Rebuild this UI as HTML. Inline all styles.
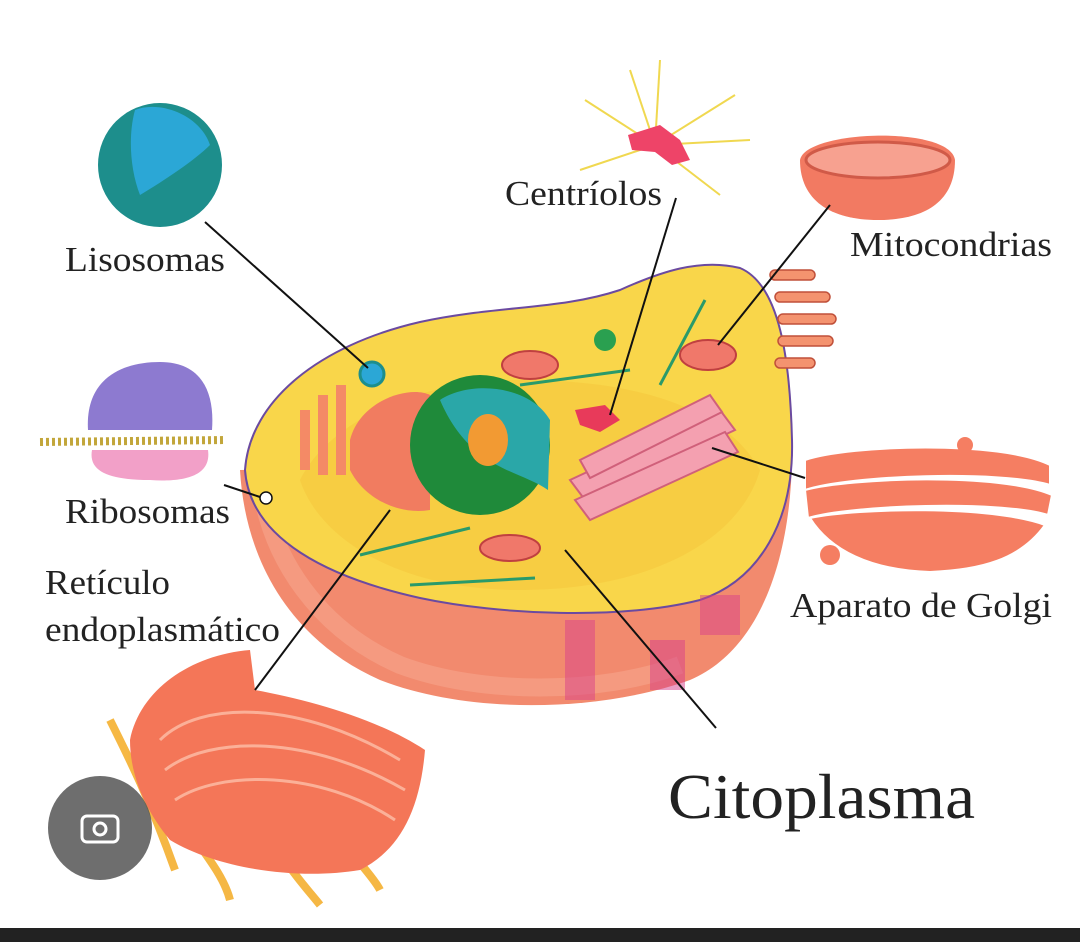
<!DOCTYPE html>
<html><head><meta charset="utf-8"><style>
html,body{margin:0;padding:0;background:#fff;}
svg{display:block}
text{font-family:"Liberation Serif",serif;fill:#222}
</style></head><body>
<svg width="1080" height="942" viewBox="0 0 1080 942" xmlns="http://www.w3.org/2000/svg">
<rect width="1080" height="942" fill="#fff"/>
<path d="M240,470 C245,560 290,640 380,680 C470,715 600,712 690,680 C760,650 790,560 792,460 Z" fill="#f28a6e"/>
<path d="M260,480 C270,560 320,630 400,665 C480,695 600,695 680,665" fill="none" stroke="#f6a58c" stroke-width="18" opacity="0.6"/>
<path d="M245,470 C250,400 320,345 420,322 C500,305 560,310 620,290 C660,272 700,258 740,268 C780,285 790,360 792,440 C794,520 760,580 700,600 C620,620 500,615 420,598 C330,578 250,540 245,470 Z" fill="#f9d64a" stroke="#6b4aa0" stroke-width="2"/>
<path d="M300,480 C330,420 420,380 520,380 C620,380 720,400 760,470 C740,540 650,590 520,590 C400,590 320,540 300,480 Z" fill="#f5c33a" opacity="0.5"/>
<g fill="#f4936f" stroke="#c0503a" stroke-width="1.5">
<rect x="770" y="270" width="45" height="10" rx="5"/><rect x="775" y="292" width="55" height="10" rx="5"/>
<rect x="778" y="314" width="58" height="10" rx="5"/><rect x="778" y="336" width="55" height="10" rx="5"/>
<rect x="775" y="358" width="40" height="10" rx="5"/></g>
<path d="M350,440 C360,400 410,385 430,395 L430,510 C400,515 365,500 350,470 Z" fill="#f17c60"/>
<g fill="#f48a66"><rect x="300" y="410" width="10" height="60"/><rect x="318" y="395" width="10" height="80"/><rect x="336" y="385" width="10" height="90"/></g>
<circle cx="480" cy="445" r="70" fill="#1f8a3a"/>
<path d="M440,400 C470,380 530,385 550,420 L548,490 C520,470 470,470 440,400Z" fill="#2aa7a8"/>
<ellipse cx="488" cy="440" rx="20" ry="26" fill="#f29a33"/>
<g fill="#f4a0b0" stroke="#d0607a" stroke-width="2">
<path d="M570,480 L720,410 L735,430 L585,500Z"/><path d="M575,500 L725,432 L738,452 L590,520Z"/><path d="M580,460 L710,395 L722,412 L590,478Z"/></g>
<g fill="#f0786a" stroke="#c04040" stroke-width="2">
<ellipse cx="530" cy="365" rx="28" ry="14"/><ellipse cx="708" cy="355" rx="28" ry="15"/><ellipse cx="510" cy="548" rx="30" ry="13"/></g>
<path d="M575,410 L605,405 L620,420 L600,432 L580,425Z" fill="#e83a5a"/>
<g stroke="#2a9a6a" stroke-width="3"><line x1="520" y1="385" x2="630" y2="370"/><line x1="360" y1="555" x2="470" y2="528"/><line x1="410" y1="585" x2="535" y2="578"/><line x1="660" y1="385" x2="705" y2="300"/></g>
<circle cx="605" cy="340" r="11" fill="#2aa050"/>
<g fill="#d7408a" opacity="0.5"><rect x="565" y="620" width="30" height="80"/><rect x="650" y="640" width="35" height="50"/><rect x="700" y="595" width="40" height="40"/></g>
<circle cx="160" cy="165" r="62" fill="#1d8e8c"/>
<path d="M135,110 C160,100 200,115 210,145 C195,160 165,180 140,195 C130,170 128,135 135,110Z" fill="#2ba7d6"/>
<circle cx="372" cy="374" r="12" fill="#2ba7d6" stroke="#1d8e8c" stroke-width="3"/>
<path d="M88,430 C85,380 120,362 160,362 C200,362 215,390 212,430 Z" fill="#8d7ad0"/>
<line x1="40" y1="442" x2="226" y2="440" stroke="#c2a63a" stroke-width="8" stroke-dasharray="3 3"/>
<path d="M92,450 L208,450 C212,478 180,482 150,480 C110,480 88,472 92,450Z" fill="#f2a0c8"/>
<g stroke="#f0d850" stroke-width="2"><line x1="655" y1="145" x2="585" y2="100"/><line x1="655" y1="145" x2="735" y2="95"/><line x1="655" y1="145" x2="660" y2="60"/><line x1="655" y1="145" x2="750" y2="140"/><line x1="655" y1="145" x2="580" y2="170"/><line x1="655" y1="145" x2="720" y2="195"/><line x1="655" y1="145" x2="630" y2="70"/></g>
<path d="M628,135 L660,125 L680,140 L690,160 L672,165 L655,152 L632,150Z" fill="#ee4468"/>
<path d="M800,160 C805,130 950,125 955,160 C955,205 920,220 878,220 C830,220 800,200 800,160Z" fill="#f27a62"/>
<ellipse cx="878" cy="160" rx="72" ry="18" fill="#f7a190" stroke="#d05a48" stroke-width="3"/>
<g fill="#f57e62" stroke="#fff" stroke-width="2">
<path d="M805,460 C850,445 1000,440 1050,465 L1050,485 C1000,470 850,475 805,490Z"/>
<path d="M805,490 C850,478 1000,472 1052,495 L1048,515 C1000,500 850,505 808,518Z"/>
<path d="M810,518 C860,508 990,505 1045,525 C1020,560 980,570 930,572 C870,570 830,550 810,518Z"/>
</g>
<circle cx="830" cy="555" r="10" fill="#f57e62"/><circle cx="965" cy="445" r="8" fill="#f57e62"/>
<g stroke="#f5b030" stroke-width="8" fill="none" opacity="0.9">
<path d="M110,720 C130,760 150,800 175,870"/><path d="M150,760 C170,820 220,860 230,900"/><path d="M260,800 C270,850 300,880 320,905"/><path d="M330,800 C340,850 370,870 380,890"/></g>
<path d="M130,740 C140,690 190,655 250,650 L255,690 C310,700 380,720 425,750 C420,810 400,850 360,870 C300,880 220,870 170,840 C145,810 130,775 130,740Z" fill="#f47658"/>
<g stroke="#fbb098" stroke-width="3" fill="none"><path d="M160,740 C200,700 300,700 400,760"/><path d="M165,770 C210,735 310,735 405,790"/><path d="M175,800 C220,770 320,770 395,820"/></g>
<circle cx="100" cy="828" r="52" fill="#555" opacity="0.85"/>
<rect x="82" y="816" width="36" height="26" rx="5" fill="none" stroke="#fff" stroke-width="3"/>
<circle cx="100" cy="829" r="6" fill="none" stroke="#fff" stroke-width="3"/>
<g stroke="#111" stroke-width="2" fill="none">
<line x1="205" y1="222" x2="368" y2="368"/>
<line x1="676" y1="198" x2="610" y2="415"/>
<line x1="830" y1="205" x2="718" y2="345"/>
<line x1="224" y1="485" x2="260" y2="497"/>
<line x1="390" y1="510" x2="255" y2="690"/>
<line x1="712" y1="448" x2="805" y2="478"/>
<line x1="565" y1="550" x2="716" y2="728"/>
</g>
<circle cx="266" cy="498" r="6" fill="#fff" stroke="#111" stroke-width="1.5"/>
<text x="65" y="271" font-size="35" textLength="160" lengthAdjust="spacingAndGlyphs">Lisosomas</text>
<text x="505" y="205" font-size="35" textLength="157" lengthAdjust="spacingAndGlyphs">Centríolos</text>
<text x="850" y="256" font-size="35" textLength="202" lengthAdjust="spacingAndGlyphs">Mitocondrias</text>
<text x="65" y="523" font-size="35" textLength="165" lengthAdjust="spacingAndGlyphs">Ribosomas</text>
<text x="45" y="594" font-size="35" textLength="125" lengthAdjust="spacingAndGlyphs">Retículo</text>
<text x="45" y="641" font-size="35" textLength="235" lengthAdjust="spacingAndGlyphs">endoplasmático</text>
<text x="790" y="617" font-size="35" textLength="262" lengthAdjust="spacingAndGlyphs">Aparato de Golgi</text>
<text x="668" y="818" font-size="64" textLength="307" lengthAdjust="spacingAndGlyphs">Citoplasma</text>
<rect x="0" y="928" width="1080" height="14" fill="#222"/>
</svg>
</body></html>
